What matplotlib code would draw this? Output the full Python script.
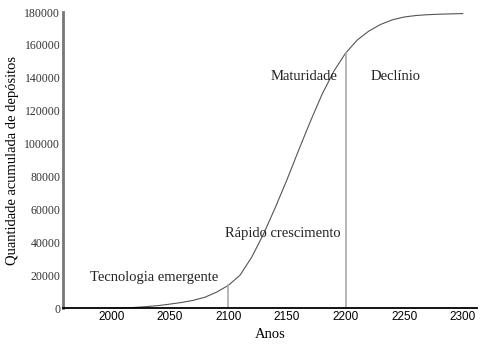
import matplotlib
matplotlib.use("Agg")
import matplotlib.pyplot as plt

# valores
anos = [2000, 2010, 2020, 2030, 2040, 2050, 2060, 2070, 2080, 2090, 2100,
        2110, 2120, 2130, 2140, 2150, 2160, 2170, 2180, 2190, 2200,
        2210, 2220, 2230, 2240, 2250, 2260, 2270, 2280, 2290, 2300]
depositos = [0, 100, 400, 900, 1500, 2400, 3400, 4700, 6600, 9700, 13800,
             20000, 31000, 45000, 61000, 78000, 96000, 113500, 130000, 144000, 155000,
             163000, 168500, 172500, 175300, 177000, 177900, 178400, 178700, 178900, 179100]

marcos = [2100, 2200]
marcos_topo = [13800, 155000]

fases = ["Tecnologia emergente", "Rápido crescimento", "Maturidade", "Declínio"]
fases_x = [1982, 2097, 2136, 2221]
fases_y = [18500, 45500, 141000, 141000]

serif = ["Liberation Serif", "DejaVu Serif"]
sans = ["Liberation Sans", "DejaVu Sans"]

fig = plt.figure(figsize=(4.89, 3.45), dpi=100)
ax = fig.add_axes([0.129, 0.107, 0.846, 0.858])

ax.plot(anos, depositos, color="#555555", lw=0.8)
for x, top in zip(marcos, marcos_topo):
    ax.plot([x, x], [0, top], color="#aaaaaa", lw=1.2)

for t, x, y in zip(fases, fases_x, fases_y):
    ax.text(x, y, t, fontsize=10.5, family=serif, va="center", ha="left", color="#222222")

ax.set_xlim(1959, 2312)
ax.set_ylim(0, 180000)
ax.set_xticks(range(2000, 2301, 50))
ax.set_yticks(range(0, 180001, 20000))
ax.tick_params(length=0, pad=2)
for lab in ax.get_xticklabels():
    lab.set_family(sans)
    lab.set_fontsize(8.5)
for lab in ax.get_yticklabels():
    lab.set_family(serif)
    lab.set_fontsize(8.5)
    lab.set_color("#333333")

ax.spines["top"].set_visible(False)
ax.spines["right"].set_visible(False)
ax.spines["left"].set_color("#777777")
ax.spines["left"].set_linewidth(2)
ax.spines["bottom"].set_color("black")
ax.spines["bottom"].set_linewidth(1.3)

ax.set_xlabel("Anos", family=serif, fontsize=10.5, labelpad=4)
ax.set_ylabel("Quantidade acumulada de depósitos", family=serif, fontsize=10.5, labelpad=4)

fig.savefig("out.png", dpi=100)
